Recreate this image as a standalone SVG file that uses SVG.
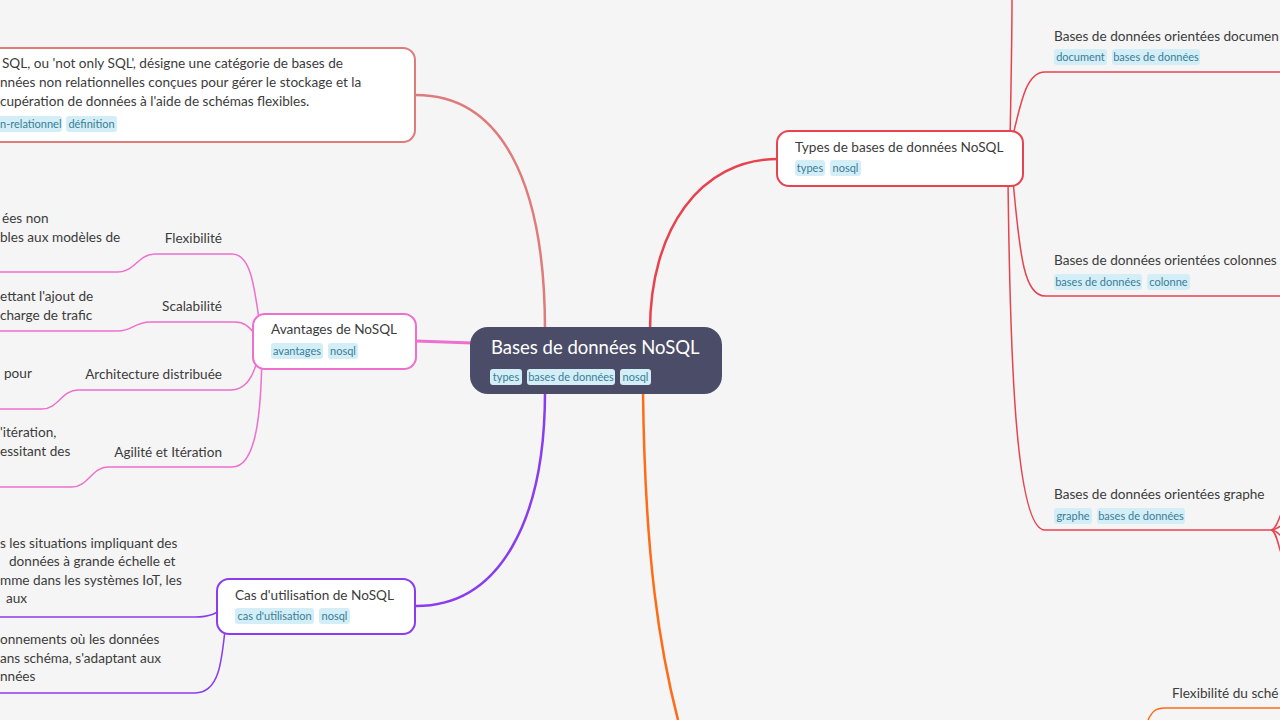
<svg xmlns="http://www.w3.org/2000/svg" width="1280" height="720" viewBox="0 0 1280 720">
<style>
.t{font-family:"Lato","Noto Sans",sans-serif;font-size:13.6px;fill:#3c3c3c}
.r{text-anchor:end}
.tg rect{fill:#d3eef7}
.tg text{font-family:"Lato","Noto Sans",sans-serif;font-size:11px;fill:#3a7d96;text-anchor:middle}
.nb{fill:#fff;stroke-width:2}
.c{fill:none}
</style>
<rect width="1280" height="720" fill="#f5f5f5"/>
<g id="connectors" class="c">
  <path d="M416,95 C500,95 545,180 545,330" stroke="#e07b7b" stroke-width="2.5"/>
  <path d="M650,330 C650,230 700,159 778,159" stroke="#e8424f" stroke-width="2.5"/>
  <path d="M416,341 L472,343" stroke="#ee6fce" stroke-width="3"/>
  <path d="M545,392 C545,520 500,606 416,606" stroke="#8a3cf0" stroke-width="2.5"/>
  <path d="M643,392 C645,560 660,650 678,720" stroke="#ff6b16" stroke-width="2.5"/>
  <g stroke="#ee6fce" stroke-width="1.5">
    <path d="M262,341 C255,290 252,254 232,254 L155,254 C138,254 135,272 118,272 L0,272"/>
    <path d="M262,341 C250,330 248,322 235,322 L150,322 C135,322 132,331 118,331 L0,331"/>
    <path d="M262,341 C256,370 250,390 230,390 L78,390 C62,390 58,409 42,409 L0,409"/>
    <path d="M262,341 C262,420 255,467 232,467 L108,467 C92,467 88,487 72,487 L0,487"/>
  </g>
  <g stroke="#8a3cf0" stroke-width="1.5">
    <path d="M228,606 C215,614 210,617 195,617 L0,617"/>
    <path d="M226,620 C222,660 220,693 195,693 L0,693"/>
  </g>
  <g stroke="#e8424f" stroke-width="1.5">
    <path d="M1010,140 C1011,90 1012,40 1012,0"/>
    <path d="M1012,140 C1022,95 1028,72 1045,72 L1280,72"/>
    <path d="M1013,180 C1020,260 1025,296 1045,296 L1280,296"/>
    <path d="M1008,180 C1010,350 1015,530 1045,530 L1271,530"/>
    <path d="M1271,530 C1276,530 1278,520 1282,512"/>
    <path d="M1271,530 C1276,530 1279,527 1282,525"/>
    <path d="M1271,530 C1276,530 1279,534 1282,537"/>
    <path d="M1271,530 C1276,530 1278,545 1282,556"/>
  </g>
  <g stroke="#ff6b16" stroke-width="1.5">
    <path d="M1148,720 C1152,712 1155,708 1165,708 L1280,708"/>
  </g>
</g>
<g id="root">
  <rect x="470" y="327" width="252" height="67" rx="18" fill="#4b4d68"/>
  <text class="t" x="491" y="354" style="font-size:18.5px;fill:#fff">Bases de données NoSQL</text>
  <g class="tg">
    <rect x="490" y="369" width="32" height="16" rx="3"/><text x="506" y="381">types</text>
    <rect x="527" y="369" width="88" height="16" rx="3"/><text x="571" y="381">bases de données</text>
    <rect x="620" y="369" width="31" height="16" rx="3"/><text x="635.5" y="381">nosql</text>
  </g>
</g>
<g id="definition">
  <rect class="nb" x="-20" y="48" width="435" height="94" rx="12" stroke="#e07b7b"/>
  <text class="t" x="2" y="68">SQL, ou 'not only SQL', désigne une catégorie de bases de</text>
  <text class="t" x="0" y="87">nnées non relationnelles conçues pour gérer le stockage et la</text>
  <text class="t" x="0" y="106">cupération de données à l'aide de schémas flexibles.</text>
  <g class="tg">
    <rect x="-4" y="116" width="66" height="16" rx="3"/><text x="0" y="128" style="text-anchor:start">n-relationnel</text>
    <rect x="66" y="116" width="51" height="16" rx="3"/><text x="91.5" y="128">définition</text>
  </g>
</g>
<g id="avantages">
  <rect class="nb" x="253" y="314" width="163" height="55" rx="12" stroke="#ee6fce"/>
  <text class="t" x="271" y="334">Avantages de NoSQL</text>
  <g class="tg">
    <rect x="271" y="343" width="52" height="16" rx="3"/><text x="297" y="355">avantages</text>
    <rect x="328" y="343" width="30" height="16" rx="3"/><text x="343" y="355">nosql</text>
  </g>
</g>
<g id="flexibilite">
  <text class="t r" x="222" y="243">Flexibilité</text>
  <text class="t" x="2" y="223">ées non</text>
  <text class="t" x="0" y="242">bles aux modèles de</text>
</g>
<g id="scalabilite">
  <text class="t r" x="222" y="311">Scalabilité</text>
  <text class="t" x="0" y="301">ettant l'ajout de</text>
  <text class="t" x="0" y="320">charge de trafic</text>
</g>
<g id="architecture">
  <text class="t r" x="222" y="379">Architecture distribuée</text>
  <text class="t" x="4" y="378">pour</text>
</g>
<g id="agilite">
  <text class="t r" x="222" y="457">Agilité et Itération</text>
  <text class="t" x="0" y="437">'itération,</text>
  <text class="t" x="0" y="456">essitant des</text>
</g>
<g id="cas">
  <rect class="nb" x="217" y="579" width="198" height="55" rx="12" stroke="#8a3cf0"/>
  <text class="t" x="235" y="600">Cas d'utilisation de NoSQL</text>
  <g class="tg">
    <rect x="235" y="608" width="79" height="16" rx="3"/><text x="274.5" y="620">cas d'utilisation</text>
    <rect x="319" y="608" width="31" height="16" rx="3"/><text x="334.5" y="620">nosql</text>
  </g>
</g>
<g id="cas-1">
  <text class="t" x="0" y="548">s les situations impliquant des</text>
  <text class="t" x="9" y="566">données à grande échelle et</text>
  <text class="t" x="0" y="585">mme dans les systèmes IoT, les</text>
  <text class="t" x="6" y="603">aux</text>
</g>
<g id="cas-2">
  <text class="t" x="0" y="644">onnements où les données</text>
  <text class="t" x="0" y="663">ans schéma, s'adaptant aux</text>
  <text class="t" x="0" y="681">nnées</text>
</g>
<g id="types">
  <rect class="nb" x="777" y="131" width="246" height="55" rx="12" stroke="#e8424f"/>
  <text class="t" x="795" y="152">Types de bases de données NoSQL</text>
  <g class="tg">
    <rect x="795" y="160" width="30" height="16" rx="3"/><text x="810" y="172">types</text>
    <rect x="830" y="160" width="31" height="16" rx="3"/><text x="845.5" y="172">nosql</text>
  </g>
</g>
<g id="documents">
  <text class="t" x="1054" y="41">Bases de données orientées documen</text>
  <g class="tg">
    <rect x="1054" y="49" width="53" height="16" rx="3"/><text x="1080.5" y="61">document</text>
    <rect x="1112" y="49" width="88" height="16" rx="3"/><text x="1156" y="61">bases de données</text>
  </g>
</g>
<g id="colonnes">
  <text class="t" x="1054" y="265">Bases de données orientées colonnes</text>
  <g class="tg">
    <rect x="1054" y="274" width="88" height="16" rx="3"/><text x="1098" y="286">bases de données</text>
    <rect x="1147" y="274" width="43" height="16" rx="3"/><text x="1168.5" y="286">colonne</text>
  </g>
</g>
<g id="graphe">
  <text class="t" x="1054" y="499">Bases de données orientées graphe</text>
  <g class="tg">
    <rect x="1054" y="508" width="38" height="16" rx="3"/><text x="1073" y="520">graphe</text>
    <rect x="1097" y="508" width="88" height="16" rx="3"/><text x="1141" y="520">bases de données</text>
  </g>
</g>
<g id="flexibilite-schema">
  <text class="t" x="1172" y="698">Flexibilité du sché</text>
</g>
</svg>
